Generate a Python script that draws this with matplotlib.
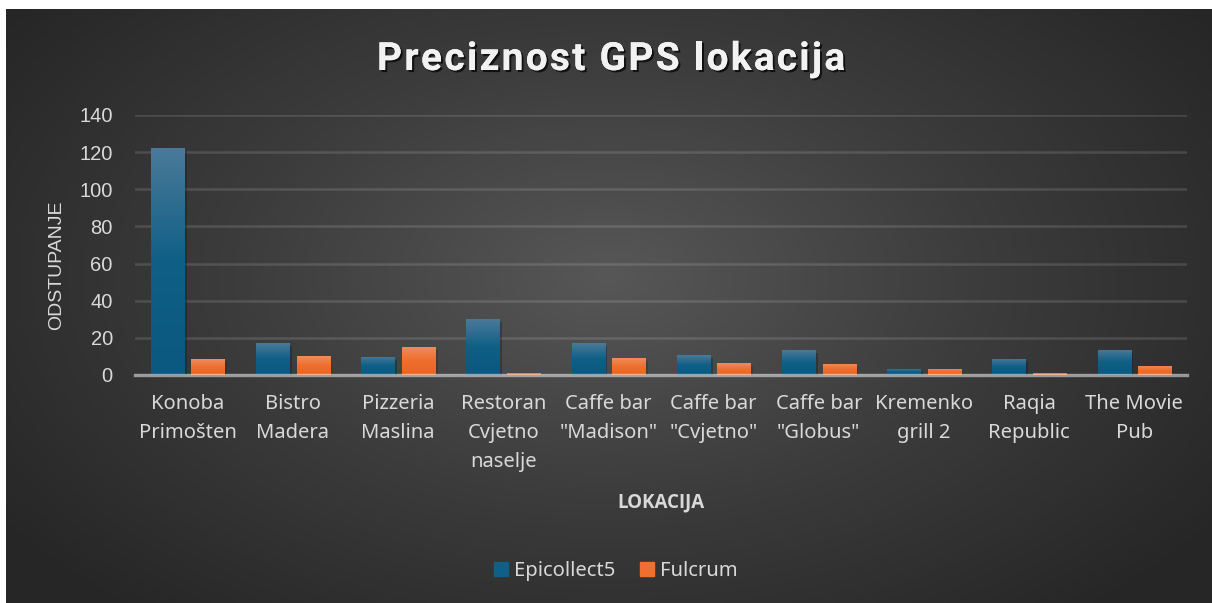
import numpy as np
import matplotlib
matplotlib.use("Agg")
import matplotlib.pyplot as plt
import matplotlib.patches as mpatches
import matplotlib.patheffects as pe
from matplotlib.colors import LinearSegmentedColormap

# data
locations = ["Konoba\nPrimošten", "Bistro\nMadera", "Pizzeria\nMaslina",
             "Restoran\nCvjetno\nnaselje", "Caffe bar\n\"Madison\"",
             "Caffe bar\n\"Cvjetno\"", "Caffe bar\n\"Globus\"",
             "Kremenko\ngrill 2", "Raqia\nRepublic", "The Movie\nPub"]
epicollect5 = [122.2, 17.2, 9.7, 30.0, 17.1, 10.7, 13.4, 3.3, 8.7, 13.6]
fulcrum = [8.6, 10.2, 15.1, 1.1, 9.1, 6.4, 6.0, 3.3, 1.1, 4.9]
title = "Preciznost GPS lokacija"

TXT = "#d9d9d9"
W, H = 1212, 603
fig = plt.figure(figsize=(W / 100, H / 100), dpi=100, facecolor="white")

# dark radial background (leaves a thin white strip at top/left)
bg = fig.add_axes([6 / W, 0, 1 - 6 / W, 1 - 9 / H])
bg.set_axis_off()
yy, xx = np.mgrid[0:1:300j, 0:1:600j]
r = np.sqrt(((xx - 0.5) / 0.62) ** 2 + ((yy - 0.45) / 0.75) ** 2)
r = np.clip(r, 0, 1)
bg_cmap = LinearSegmentedColormap.from_list("bg", ["#575757", "#3c3c3c", "#262626"])
bg.imshow(r, cmap=bg_cmap, aspect="auto", extent=[0, 1, 0, 1], vmin=0, vmax=1)

ax = fig.add_axes([135 / W, 1 - 375 / H, (1187 - 135) / W, (375 - 115) / H])
ax.set_facecolor("none")
x = np.arange(len(locations))
bw = 0.315
off = 0.193

blue_grad = LinearSegmentedColormap.from_list("b", ["#0b5880", "#0f5f86", "#4a7a99"])
orange_grad = LinearSegmentedColormap.from_list("o", ["#eb6420", "#ee6f2e", "#f08c5e"])

def grad_bars(xs, vals, cmap, color):
    bars = ax.bar(xs, vals, bw, color=color, zorder=2,
                  path_effects=[pe.SimplePatchShadow(offset=(2, -2), alpha=0.35), pe.Normal()])
    g = np.linspace(0, 1, 100).reshape(-1, 1)
    for b in bars:
        im = ax.imshow(g, cmap=cmap, origin="lower", aspect="auto", zorder=3,
                       extent=[b.get_x(), b.get_x() + b.get_width(), 0, b.get_height()])
        im.set_clip_path(b)
    return bars

grad_bars(x - off, epicollect5, blue_grad, "#0f5f86")
grad_bars(x + off, fulcrum, orange_grad, "#ee6f2e")

ax.set_xlim(-0.5, len(locations) - 0.5)
ax.set_ylim(0, 140)
ax.set_yticks(range(0, 141, 20))
ax.yaxis.grid(True, color="white", alpha=0.13, lw=1.8, zorder=0)
ax.set_axisbelow(True)
for s in ["top", "right", "left"]:
    ax.spines[s].set_visible(False)
ax.spines["bottom"].set_color("white")
ax.spines["bottom"].set_alpha(0.5)
ax.spines["bottom"].set_linewidth(2.4)
ax.spines["bottom"].set_zorder(5)
ax.set_xticks(x)
ax.set_xticklabels(locations, fontsize=14.5, color=TXT, family="Noto Sans",
                   linespacing=1.58)
ax.tick_params(axis="x", length=0, pad=14)
ax.tick_params(axis="y", length=0, pad=16, labelsize=14.5, labelcolor=TXT)
for t in ax.get_yticklabels():
    t.set_family("Liberation Sans")

fig.text(57 / W, 1 - 265 / H, "ODSTUPANJE", rotation=90, ha="center", va="center",
         fontsize=14, color=TXT, family="Liberation Sans")
fig.text(661 / W, 1 - 502 / H, "LOKACIJA", ha="center", va="center",
         fontsize=13.5, color=TXT, family="Open Sans", weight="bold")

# title with letter spacing, drawn char by char
renderer = fig.canvas.get_renderer()
tprops = dict(fontsize=28, color="#f2f2f2", family="Roboto", weight="bold")
def char_w(c):
    t = fig.text(0, 0, "x" + c + "x", **tprops)
    t2 = fig.text(0, 0, "xx", **tprops)
    w = t.get_window_extent(renderer).width - t2.get_window_extent(renderer).width
    t.remove()
    t2.remove()
    return w
widths = [char_w(c) for c in title]
target = 468
gap = (target - sum(widths)) / (len(title) - 1)
cx = 611 - target / 2
for c, w in zip(title, widths):
    fig.text(cx / W, 1 - 70 / H, c, ha="left", va="baseline", **tprops,
             path_effects=[pe.withSimplePatchShadow(offset=(1.5, -1.5), shadow_rgbFace="black",
                                                    alpha=0.7), pe.Normal()])
    cx += w + gap

handles = [mpatches.Patch(color="#0f5f86", label="Epicollect5"),
           mpatches.Patch(color="#ee6f2e", label="Fulcrum")]
fig.legend(handles=handles, loc="center", bbox_to_anchor=(616 / W, 1 - 571 / H), ncol=2,
           frameon=False, prop={"family": "Noto Sans", "size": 14.5}, labelcolor=TXT,
           handlelength=0.7, handleheight=0.7, handletextpad=0.3, columnspacing=1.2)

fig.savefig("out.png", dpi=100, facecolor="white")
